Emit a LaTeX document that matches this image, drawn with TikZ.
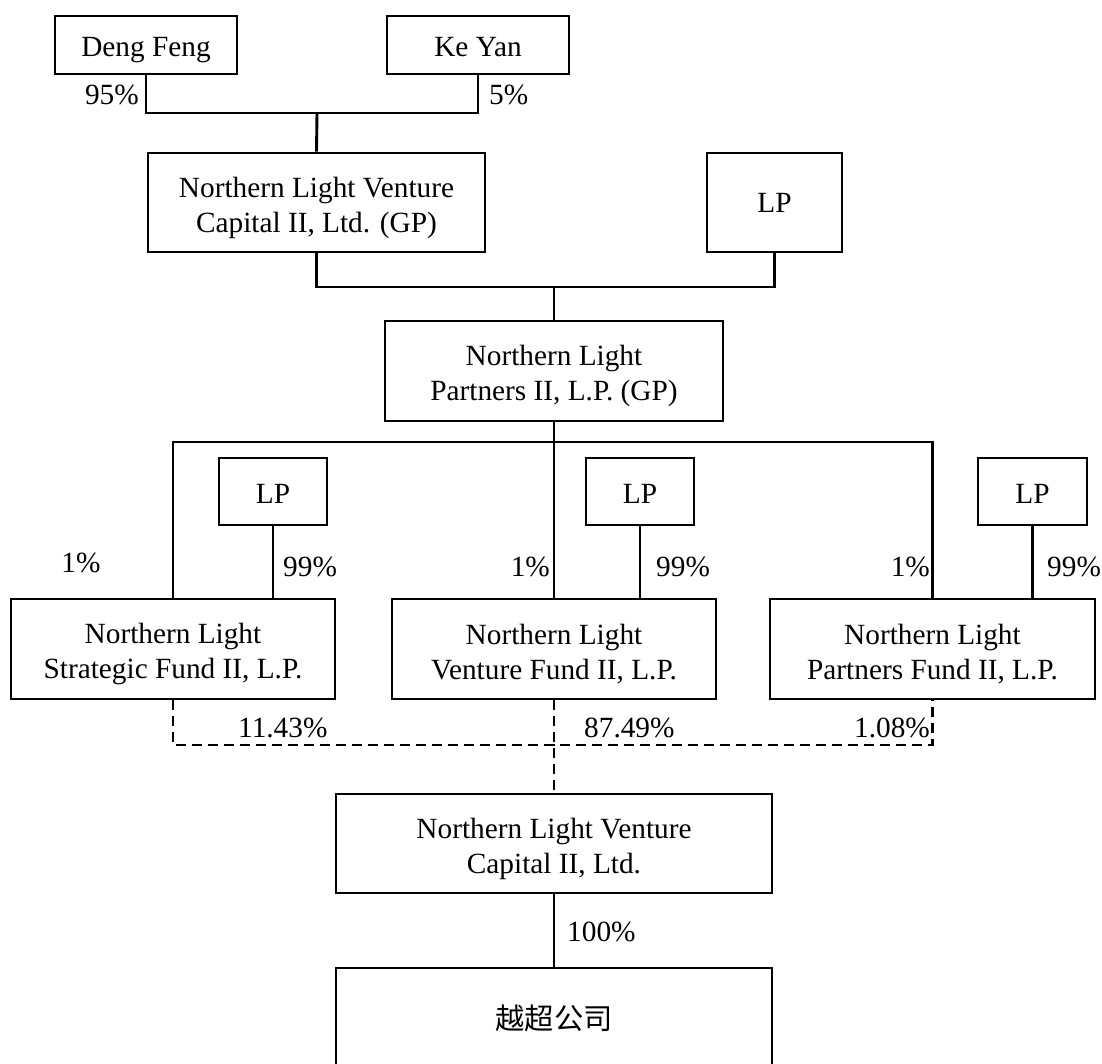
\documentclass[tikz,border=0pt]{standalone}
\usepackage{fontspec}
\setmainfont{Liberation Serif}
\newfontfamily\cjk{Noto Sans CJK SC}
\newcommand{\twolines}[2]{\rule{0pt}{31pt}#1\\#2}
\begin{document}
\begin{tikzpicture}[x=1pt,y=-1pt,
  every node/.style={font=\fontsize{29.3}{35}\selectfont},
  box/.style={draw, line width=2.9pt, inner sep=0pt, align=center},
  conn/.style={line width=2.9pt},
  dconn/.style={line width=2.9pt, dash pattern=on 10pt off 6pt},
  pct/.style={inner sep=0pt}]
\useasboundingbox (0,0) rectangle (1102,1064);
\clip (0,0) rectangle (1102,1064);
\fill[white] (0,0) rectangle (1102,1064);
% boxes
\node[box, minimum width=182pt, minimum height=58pt, text height=24pt, text depth=0pt] (deng) at (146,45) {Deng Feng};
\node[box, minimum width=182pt, minimum height=58pt, text height=24pt, text depth=0pt] (keyan) at (478,45) {Ke Yan};
\node[box, minimum width=337pt, minimum height=99pt] (gp1) at (316.5,202.5) {\twolines{Northern Light Venture}{Capital II, Ltd. (GP)}};
\node[box, minimum width=135pt, minimum height=99pt, text height=21pt, text depth=0pt] (lp0) at (774.5,202.5) {LP};
\node[box, minimum width=338pt, minimum height=100pt] (gp2) at (554,371) {\twolines{Northern Light}{Partners II, L.P. (GP)}};
\node[box, minimum width=108pt, minimum height=67pt, text height=23pt, text depth=0pt] (lp1) at (273,491.5) {LP};
\node[box, minimum width=108pt, minimum height=67pt, text height=23pt, text depth=0pt] (lp2) at (640,491.5) {LP};
\node[box, minimum width=109pt, minimum height=67pt, text height=23pt, text depth=0pt] (lp3) at (1032.5,491.5) {LP};
\node[box, minimum width=324pt, minimum height=100pt] (fund1) at (173,649) {\twolines{Northern Light}{Strategic Fund II, L.P.}};
\node[box, minimum width=324pt, minimum height=100pt] (fund2) at (554,649) {\twolines{Northern Light}{Venture Fund II, L.P.}};
\node[box, minimum width=325pt, minimum height=100pt] (fund3) at (932.5,649) {\twolines{Northern Light}{Partners Fund II, L.P.}};
\node[box, minimum width=436pt, minimum height=99pt] (nlvc) at (554,843.5) {\twolines{Northern Light Venture}{Capital II, Ltd.}};
\node[box, minimum width=436pt, minimum height=100pt] (yue) at (554,1018) {\cjk 越超公司};
% junctions
\coordinate (j1) at (317,113);
\coordinate (j2) at (554,287);
\coordinate (j3) at (554,442);
\coordinate (j4) at (554,745);
% connectors
\draw[conn] (deng.south) |- (j1) -| (keyan.south);
\draw[conn] (j1) -- (gp1.north);
\draw[conn] (gp1.south) |- (j2) -| (lp0.south);
\draw[conn] (j2) -- (gp2.north);
\draw[conn] (fund1.north) |- (j3) -| (fund3.north);
\draw[conn] (gp2.south) -- (fund2.north);
\draw[conn] (lp1.south) -- (lp1.south |- fund1.north);
\draw[conn] (lp2.south) -- (lp2.south |- fund2.north);
\draw[conn] (lp3.south) -- (lp3.south |- fund3.north);
\draw[dconn] (fund1.south) |- (j4) -| (fund3.south);
\draw[dconn] (fund2.south) -- (nlvc.north);
\draw[conn] (nlvc.south) -- (yue.north);
% labels
\node[pct, anchor=east] (l95) at (139,95) {95\%};
\node[pct, anchor=west] (l5) at (489,95) {5\%};
\node[pct] (l1a) at (81,563) {1\%};
\node[pct, anchor=west] (l99a) at (283,567) {99\%};
\node[pct, anchor=east] (l1b) at (550,567) {1\%};
\node[pct, anchor=west] (l99b) at (656,567) {99\%};
\node[pct, anchor=east] (l1c) at (930,567) {1\%};
\node[pct, anchor=west] (l99c) at (1047,567) {99\%};
\node[pct, anchor=west] (l1143) at (238,728) {11.43\%};
\node[pct, anchor=west] (l8749) at (584,728) {87.49\%};
\node[pct, anchor=east] (l108) at (930,728) {1.08\%};
\node[pct, anchor=west] (l100) at (567,932) {100\%};
\end{tikzpicture}
\end{document}
